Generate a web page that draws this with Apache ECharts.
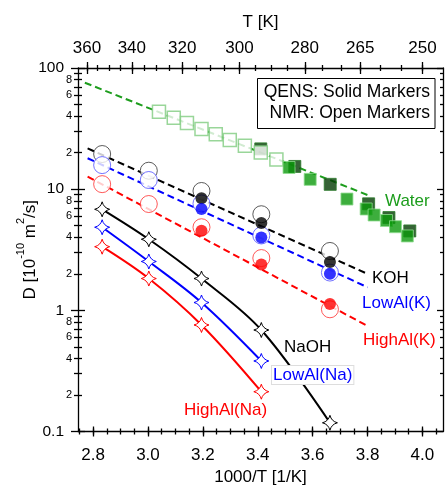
<!DOCTYPE html>
<html>
<head>
<meta charset="utf-8">
<script src="https://cdn.jsdelivr.net/npm/echarts@6/dist/echarts.min.js"></script>
<style>
  html, body { margin: 0; padding: 0; background: #fff; }
  #chart { width: 445px; height: 495px; }
</style>
</head>
<body>
<div id="chart"></div>
<script>
const FONT = 'Liberation Sans, Arial, sans-serif'

// tick labels
const xTicks = [2.8, 3.0, 3.2, 3.4, 3.6, 3.8, 4.0]      // 1000/T
const tLabels = [360, 340, 320, 300, 280, 265, 250]     // T [K] on top
const yMajor = [0.1, 1, 10, 100]
const yMinorLabels = [2, 4, 6, 8]

// 1000/T of the hydroxide samples
const invT = [2.833, 3.003, 3.195, 3.413, 3.663]

// circles (K solutions): NMR open, QENS solid
const kohNMR = [19.5, 14.2, 9.66, 6.21, 3.09]
const kohQENS = [null, null, 8.41, 5.26, 2.50]
const lowAlKNMR = [15.8, 11.9, 7.62, 4.15, 2.05]
const lowAlKQENS = [null, null, 6.86, 3.99, 2.0]
const highAlKNMR = [11.0, 7.54, 4.85, 2.70, 1.02]
const highAlKQENS = [null, null, 4.54, 2.39, 1.13]

// stars (Na solutions)
const naohD = [6.82, 3.86, 1.83, 0.688, 0.118]
const lowAlNaD = [4.85, 2.53, 1.16, 0.382]
const highAlNaD = [3.35, 1.83, 0.757, 0.213]

// water
const waterNMRx = [3.040, 3.094, 3.142, 3.195, 3.247, 3.298, 3.353, 3.411, 3.468]
const waterNMR = [43.6, 38.9, 35.2, 31.4, 28.4, 25.5, 22.8, 20.1, 17.6]
const waterQENSx = [3.514, 3.591, 3.725, 3.795, 3.824, 3.869, 3.902, 3.945]
const waterQENS = [15.1, 12.05, 8.29, 6.86, 6.12, 5.51, 4.90, 4.11]
const waterQENS2x = [3.411, 3.535, 3.664, 3.804, 3.878, 3.954]
const waterQENS2 = [21.5, 15.4, 10.96, 7.57, 5.83, 4.52]

// Arrhenius fits (dashed), end points
const fitX = [2.78, 3.80]
const waterFitX = [2.77, 3.80]
const waterFit = [75.6, 8.95]
const kohFit = [21.7, 2.0]
const lowAlKFit = [18.0, 1.55]
const highAlKFit = [12.7, 0.743]

const X_MIN = 2.745, X_MAX = 4.075

function pairs(xs, ys) {
  const out = []
  for (let i = 0; i < ys.length; i++) {
    if (ys[i] != null) out.push([xs[i], ys[i]])
  }
  return out
}

// tick positions
const xMinor = []
for (let v = 2.75; v <= 4.06; v += 0.05) xMinor.push(+v.toFixed(2))
const tMinor = []
for (let t = 250; t <= 360; t += 5) tMinor.push(1000 / t)
const yMajorLog = yMajor.map(Math.log10)
const yMinorLog = []
const yMinorLabelLog = []
;[0.1, 1, 10].forEach(dec => {
  for (let k = 2; k <= 9; k++) yMinorLog.push(Math.log10(k * dec))
  yMinorLabels.forEach(k => yMinorLabelLog.push(Math.log10(k * dec)))
})

const STAR = 'path://M0,-10 Q2,-2 10,0 Q2,2 0,10 Q-2,2 -10,0 Q-2,-2 0,-10 Z'
const GREEN = '#1d9d1d'

function tickAxis(position, offset, values, length, inside) {
  return {
    type: 'value', position: position, offset: offset,
    min: position === 'left' || position === 'right' ? -1 : X_MIN,
    max: position === 'left' || position === 'right' ? 2 : X_MAX,
    axisLine: { show: false, onZero: false },
    axisTick: { show: true, customValues: values, length: length, inside: !!inside,
      lineStyle: { color: '#000', width: 1.3 } },
    axisLabel: { show: false },
    splitLine: { show: false }
  }
}

function dashed(xs, ys, color) {
  return {
    type: 'line', data: pairs(xs, ys), symbol: 'none', silent: true, z: 1,
    lineStyle: { color: color, width: 2, type: [7, 4] }
  }
}
function stars(ys, color) {
  return {
    type: 'line', data: pairs(invT, ys), smooth: 0.35, z: 3,
    symbol: STAR, symbolSize: 15,
    itemStyle: { color: '#fff', borderColor: color, borderWidth: 1 },
    lineStyle: { color: color, width: 2 }
  }
}
function openCircles(ys, color) {
  return {
    type: 'scatter', data: pairs(invT, ys), symbol: 'circle', symbolSize: 17, z: 4,
    itemStyle: { color: '#fff', borderColor: color, borderWidth: 1 }
  }
}
function solidCircles(ys, color) {
  return {
    type: 'scatter', data: pairs(invT, ys), symbol: 'circle', symbolSize: 12, z: 5,
    itemStyle: { color: color }
  }
}

function label(text, x, y, color, extra) {
  return {
    type: 'text', x: x, y: y, z: 100,
    style: Object.assign({
      text: text, fill: color, fontSize: 17, fontFamily: FONT,
      align: 'left', verticalAlign: 'middle'
    }, extra || {})
  }
}

const chart = echarts.init(document.getElementById('chart'))
chart.setOption({
  animation: false,
  backgroundColor: '#fff',
  grid: { left: 78, right: 2, top: 68, bottom: 63.5 },
  xAxis: [
    { // data axis, bottom labels
      type: 'value', position: 'bottom', min: X_MIN, max: X_MAX,
      axisLine: { show: true, onZero: false, lineStyle: { color: '#000', width: 1.3 } },
      axisTick: { show: false },
      splitLine: { show: false },
      axisLabel: { customValues: xTicks, formatter: v => v.toFixed(1), margin: 15,
        fontSize: 17, fontFamily: FONT, color: '#000' },
      name: '1000/T [1/K]', nameLocation: 'middle', nameGap: 35,
      nameTextStyle: { fontSize: 17, fontFamily: FONT, color: '#000' }
    },
    tickAxis('bottom', -5, xTicks, 10),
    tickAxis('bottom', -3, xMinor, 6),
    { // top T [K] labels
      type: 'value', position: 'top', min: X_MIN, max: X_MAX,
      axisLine: { show: true, onZero: false, lineStyle: { color: '#000', width: 1.3 } },
      axisTick: { show: false },
      splitLine: { show: false },
      axisLabel: { customValues: tLabels.map(t => 1000 / t), formatter: v => Math.round(1000 / v),
        margin: 11, fontSize: 17, fontFamily: FONT, color: '#000' },
      name: 'T [K]', nameLocation: 'middle', nameGap: 37,
      nameTextStyle: { fontSize: 17, fontFamily: FONT, color: '#000' }
    },
    tickAxis('top', -6, tLabels.map(t => 1000 / t), 12),
    tickAxis('top', -3, tMinor, 6)
  ],
  yAxis: [
    { // data axis (log)
      type: 'log', logBase: 10, min: 0.1, max: 100, position: 'left',
      axisLine: { show: true, onZero: false, lineStyle: { color: '#000', width: 1.3 } },
      axisTick: { show: false },
      axisLabel: { show: false },
      splitLine: { show: false },
      name: '{a|D [10}{b|-10}{a| m}{b|2}{a|/s]}',
      nameLocation: 'middle', nameGap: 39, nameRotate: 90,
      nameTextStyle: {
        rich: {
          a: { fontSize: 17, fontFamily: FONT, color: '#000', lineHeight: 24, verticalAlign: 'bottom' },
          b: { fontSize: 11, fontFamily: FONT, color: '#000', lineHeight: 12, verticalAlign: 'top' }
        }
      }
    },
    { // major ticks + decade labels
      type: 'value', position: 'left', offset: -7, min: -1, max: 2,
      axisLine: { show: false, onZero: false },
      axisTick: { show: true, customValues: yMajorLog, length: 14, lineStyle: { color: '#000', width: 1.3 } },
      axisLabel: { customValues: yMajorLog, margin: 21, fontSize: 15.5, fontFamily: FONT, color: '#000',
        formatter: v => String(+Math.pow(10, v).toPrecision(3)) },
      splitLine: { show: false }
    },
    { // minor ticks + 2,4,6,8 labels
      type: 'value', position: 'left', offset: -4, min: -1, max: 2,
      axisLine: { show: false, onZero: false },
      axisTick: { show: true, customValues: yMinorLog, length: 8, lineStyle: { color: '#000', width: 1.3 } },
      axisLabel: { customValues: yMinorLabelLog, margin: 10, fontSize: 11, fontFamily: FONT, color: '#000',
        formatter: v => String(Math.round(Math.pow(10, v - Math.floor(v + 1e-9)))) },
      splitLine: { show: false }
    },
    { // right frame, inward ticks
      type: 'value', position: 'right', min: -1, max: 2,
      axisLine: { show: true, onZero: false, lineStyle: { color: '#000', width: 1.3 } },
      axisTick: { show: true, inside: true, customValues: yMajorLog, length: 6, lineStyle: { color: '#000', width: 1.3 } },
      axisLabel: { show: false },
      splitLine: { show: false }
    },
    tickAxis('right', 0, yMinorLog, 3, true)
  ],
  series: [
    dashed(waterFitX, waterFit, GREEN),
    dashed(fitX, kohFit, '#000'),
    dashed(fitX, lowAlKFit, '#0000ff'),
    dashed(fitX, highAlKFit, '#ff0000'),

    stars(naohD, '#000'),
    stars(lowAlNaD, '#0000ff'),
    stars(highAlNaD, '#ff0000'),

    openCircles(kohNMR, '#333'),
    solidCircles(kohQENS, '#000'),
    openCircles(lowAlKNMR, '#5050ff'),
    solidCircles(lowAlKQENS, '#0000ff'),
    openCircles(highAlKNMR, '#ff3030'),
    solidCircles(highAlKQENS, '#ff0000'),

    { // water QENS (second set, dark)
      type: 'scatter', data: pairs(waterQENS2x, waterQENS2), symbol: 'rect', symbolSize: 12, z: 4,
      itemStyle: { color: '#043c04', borderColor: '#2a7a2a', borderWidth: 1 }
    },
    { // water NMR
      type: 'scatter', data: pairs(waterNMRx, waterNMR), symbol: 'rect', symbolSize: 13, z: 5,
      itemStyle: { color: '#fff', borderColor: '#80cc80', borderWidth: 1.5 }
    },
    { // water QENS
      type: 'scatter', data: pairs(waterQENSx, waterQENS), symbol: 'rect', symbolSize: 12, z: 6,
      itemStyle: { color: '#0c9a0c', borderColor: '#8fdc8f', borderWidth: 1 }
    }
  ],
  graphic: [
    { type: 'rect', z: 100, shape: { x: 257.5, y: 78.5, width: 177.5, height: 50 },
      style: { fill: '#fff', stroke: '#000', lineWidth: 1 } },
    label('QENS: Solid Markers', 430, 92, '#000', { align: 'right', fontSize: 17.5 }),
    label('NMR: Open Markers', 430, 113, '#000', { align: 'right', fontSize: 17.5 }),
    label('Water', 385, 201, GREEN),
    label('KOH', 372, 278, '#000'),
    label('LowAl(K)', 362, 303, '#0000ff'),
    label('HighAl(K)', 363, 340, '#ff0000'),
    label('NaOH', 284, 347, '#000'),
    label('LowAl(Na)', 272, 375, '#0000ff',
      { backgroundColor: '#fff', borderColor: '#dddddd', borderWidth: 1, padding: [1, 1, 0, 1] }),
    label('HighAl(Na)', 184, 410, '#ff0000')
  ]
})
</script>
</body>
</html>
